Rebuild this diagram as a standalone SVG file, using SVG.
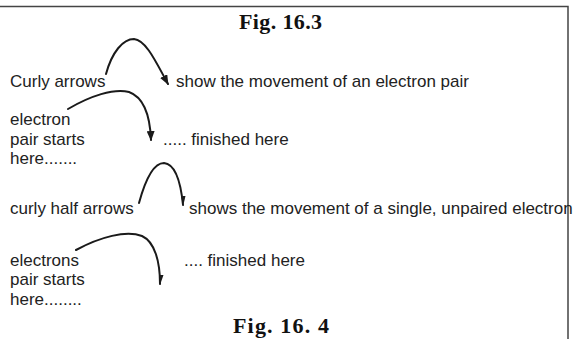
<svg xmlns="http://www.w3.org/2000/svg" width="575" height="339" viewBox="0 0 575 339">
<style>
.t{font-family:"Liberation Sans",Arial,sans-serif;font-size:17px;fill:#222}
.h{font-family:"Liberation Serif","Times New Roman",serif;font-size:22px;font-weight:bold;fill:#111}
.c{fill:none;stroke:#1a1a1a;stroke-width:2;stroke-linecap:round}
.frame{fill:none;stroke:#444;stroke-width:1.5}
</style>
<defs>
<marker id="full" viewBox="0 0 10 8" refX="9" refY="4" markerWidth="10" markerHeight="8" markerUnits="userSpaceOnUse" orient="auto">
<path d="M0,0 L10,4 L0,8 z" fill="#1a1a1a"/>
</marker>
<marker id="half" viewBox="0 0 10 8" refX="9" refY="4" markerWidth="10" markerHeight="8" markerUnits="userSpaceOnUse" orient="auto">
<path d="M0,0.5 L10,4 L0,5 z" fill="#1a1a1a"/>
</marker>
</defs>
<rect width="575" height="339" fill="#fff"/>
<path class="frame" d="M0,6.5 H568 V339"/>
<g id="title1"><text class="h" x="239" y="29" textLength="83">Fig. 16.3</text></g>
<g id="row1">
<text class="t" x="10" y="87">Curly arrows</text>
<text class="t" x="176" y="87">show the movement of an electron pair</text>
</g>
<g id="row2">
<text class="t" x="10" y="125">electron</text>
<text class="t" x="10" y="145">pair starts</text>
<text class="t" x="10" y="164">here.......</text>
<text class="t" x="163" y="145">..... finished here</text>
</g>
<g id="row3">
<text class="t" x="10" y="214">curly half arrows</text>
<text class="t" x="189" y="214">shows the movement of a single, unpaired electron</text>
</g>
<g id="row4">
<text class="t" x="10" y="266">electrons</text>
<text class="t" x="10" y="285">pair starts</text>
<text class="t" x="10" y="305">here........</text>
<text class="t" x="184" y="266">.... finished here</text>
</g>
<g id="title2"><text class="h" x="233" y="333" textLength="96">Fig. 16. 4</text></g>
<g id="connectors">
<path class="c" marker-end="url(#full)" d="M106,74 C112,52 123,39 134,39 C146,40 156,62 168,84"/>
<path class="c" marker-end="url(#full)" d="M68,109 C90,96 114,88 129,92 C143,97 150,115 151,140"/>
<path class="c" marker-end="url(#half)" d="M139,203 C145,181 153,163 164,163 C176,164 181,185 183,205"/>
<path class="c" marker-end="url(#half)" d="M76,250 C100,237 126,230 142,236 C155,242 160,262 160,284"/>
</g>
</svg>
